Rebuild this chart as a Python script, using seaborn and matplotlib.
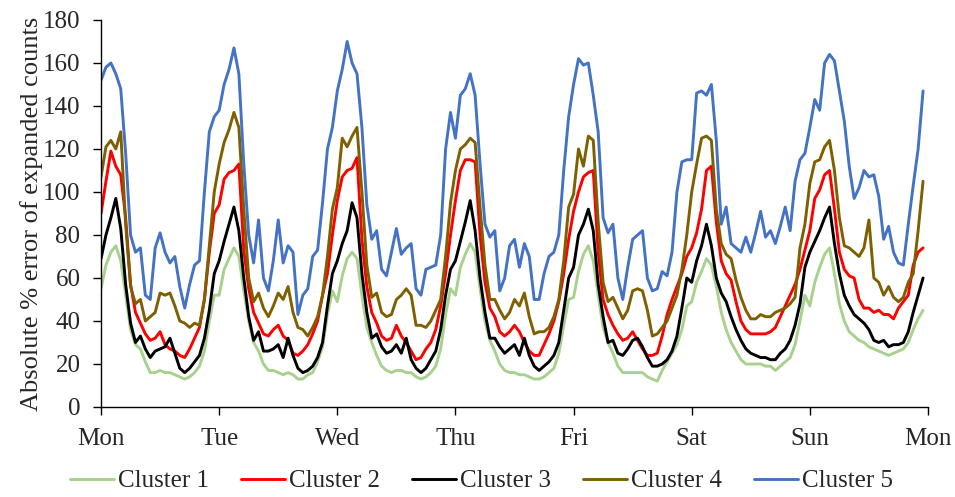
import matplotlib
matplotlib.use("Agg")
import numpy as np
import pandas as pd
import matplotlib.pyplot as plt
import seaborn as sns

# hourly values, Mon 00:00 .. Sun 23:00 (one row per day)
cluster1 = [
    55, 66, 72, 75, 68, 52, 36, 29, 27, 21, 16, 16, 17, 16, 16, 15, 14, 13, 14, 16, 19, 26, 40, 52,
    52, 64, 69, 74, 70, 54, 40, 30, 26, 20, 17, 17, 16, 15, 16, 15, 13, 13, 15, 16, 21, 28, 43, 54,
    49, 61, 69, 72, 69, 52, 37, 30, 24, 19, 17, 16, 17, 17, 16, 16, 14, 13, 14, 16, 19, 27, 43, 55,
    52, 65, 71, 76, 72, 55, 40, 31, 26, 20, 17, 16, 16, 15, 15, 14, 13, 13, 14, 16, 18, 25, 38, 50,
    51, 63, 71, 75, 68, 52, 37, 30, 25, 19, 16, 16, 16, 16, 16, 14, 13, 12, 17, 21, 25, 29, 36, 47,
    49, 58, 63, 69, 66, 56, 44, 36, 30, 26, 22, 20, 20, 20, 20, 19, 19, 17, 19, 21, 23, 29, 40, 52,
    47, 58, 65, 71, 74, 62, 48, 40, 35, 33, 31, 30, 28, 27, 26, 25, 24, 25, 26, 27, 30, 36, 41, 45,
]
cluster2 = [
    90, 105, 119, 112, 108, 88, 57, 44, 39, 34, 31, 32, 35, 29, 27, 26, 24, 23, 27, 32, 37, 50, 72, 90,
    94, 106, 109, 110, 113, 73, 55, 44, 39, 34, 33, 36, 38, 33, 31, 25, 24, 26, 29, 34, 40, 52, 62, 80,
    96, 107, 110, 111, 116, 78, 56, 44, 39, 33, 31, 32, 38, 33, 30, 26, 22, 23, 27, 30, 36, 47, 62, 80,
    96, 110, 115, 115, 114, 80, 58, 46, 42, 35, 33, 35, 38, 35, 30, 26, 24, 24, 29, 34, 40, 49, 62, 78,
    91, 100, 107, 109, 110, 72, 50, 43, 38, 34, 31, 32, 35, 31, 27, 24, 24, 25, 33, 43, 50, 56, 62, 70,
    74, 81, 92, 110, 112, 86, 68, 62, 59, 49, 40, 36, 34, 34, 34, 34, 35, 37, 42, 47, 52, 57, 64, 73,
    82, 97, 101, 108, 110, 92, 72, 64, 61, 60, 50, 46, 46, 44, 45, 43, 43, 41, 46, 49, 52, 66, 72, 74,
]
cluster3 = [
    69, 80, 88, 97, 83, 57, 39, 30, 33, 27, 23, 26, 27, 28, 32, 25, 18, 16, 18, 21, 24, 32, 45, 62,
    68, 77, 85, 93, 82, 60, 42, 31, 35, 26, 26, 27, 29, 23, 32, 24, 18, 16, 17, 19, 23, 30, 47, 62,
    68, 76, 82, 95, 88, 62, 44, 32, 34, 28, 25, 26, 29, 25, 32, 22, 18, 16, 18, 22, 26, 36, 52, 64,
    68, 77, 86, 96, 82, 60, 44, 32, 32, 28, 25, 27, 29, 24, 32, 24, 19, 17, 19, 21, 24, 30, 45, 60,
    65, 80, 85, 92, 82, 57, 42, 30, 31, 25, 24, 27, 31, 32, 28, 23, 19, 19, 20, 22, 26, 33, 46, 60,
    58, 68, 75, 85, 75, 60, 53, 49, 42, 36, 31, 27, 25, 24, 23, 23, 22, 22, 25, 27, 31, 38, 48, 65,
    72, 77, 82, 88, 93, 76, 62, 52, 47, 43, 41, 39, 36, 31, 30, 31, 28, 29, 29, 30, 35, 44, 52, 60,
]
cluster4 = [
    107, 121, 124, 120, 128, 85, 56, 48, 50, 40, 42, 44, 53, 52, 53, 47, 40, 39, 37, 39, 38, 50, 75, 100,
    113, 123, 129, 137, 130, 92, 60, 49, 53, 46, 42, 47, 53, 50, 56, 44, 37, 36, 33, 37, 42, 52, 70, 92,
    102, 125, 121, 126, 130, 100, 66, 51, 53, 44, 42, 43, 50, 52, 55, 52, 38, 38, 37, 40, 45, 50, 70, 95,
    110, 120, 122, 125, 123, 93, 66, 50, 50, 45, 41, 44, 50, 47, 53, 42, 34, 35, 35, 37, 42, 50, 68, 93,
    99, 120, 112, 126, 124, 86, 58, 49, 51, 46, 41, 45, 54, 55, 54, 45, 33, 34, 37, 40, 46, 52, 64, 80,
    100, 113, 125, 126, 124, 92, 76, 71, 69, 59, 51, 45, 41, 41, 43, 42, 42, 44, 45, 46, 48, 51, 74, 85,
    104, 114, 115, 121, 124, 110, 88, 75, 74, 72, 70, 74, 87, 60, 58, 52, 56, 51, 49, 51, 58, 62, 82, 105,
]
cluster5 = [
    152, 158, 160, 155, 148, 118, 80, 72, 74, 52, 50, 74, 81, 72, 67, 70, 56, 46, 57, 66, 68, 100, 128, 135,
    138, 150, 157, 167, 155, 113, 80, 67, 87, 60, 54, 68, 87, 67, 75, 72, 43, 52, 55, 70, 73, 95, 120, 130,
    147, 157, 170, 160, 155, 130, 94, 78, 82, 64, 61, 72, 83, 71, 74, 76, 55, 52, 64, 65, 66, 80, 120, 137,
    125, 145, 148, 155, 145, 113, 85, 79, 82, 54, 60, 75, 78, 65, 76, 70, 50, 50, 62, 70, 72, 80, 110, 135,
    150, 162, 159, 160, 145, 128, 88, 81, 85, 60, 50, 65, 78, 80, 82, 60, 54, 55, 63, 61, 72, 100, 114, 115,
    115, 146, 147, 145, 150, 124, 85, 93, 76, 74, 72, 79, 72, 81, 91, 79, 82, 76, 84, 93, 82, 105, 115, 118,
    130, 143, 138, 160, 164, 161, 147, 133, 112, 97, 102, 110, 107, 108, 98, 78, 84, 72, 67, 66, 85, 103, 120, 147,
]
clusters = ["Cluster 1", "Cluster 2", "Cluster 3", "Cluster 4", "Cluster 5"]
colors = ["#A9D18E", "#FF0000", "#000000", "#7F6000", "#4472C4"]
day_labels = ["Mon", "Tue", "Wed", "Thu", "Fri", "Sat", "Sun", "Mon"]

hours = np.arange(len(cluster1))
df = pd.concat([
    pd.DataFrame({"hour": hours, "error": vals, "cluster": name})
    for name, vals in zip(clusters, [cluster1, cluster2, cluster3, cluster4, cluster5])
])

sns.set_style("ticks")
plt.rcParams["font.family"] = ["Liberation Serif", "DejaVu Serif"]

fig = plt.figure(figsize=(9.55, 4.97), dpi=100)
ax = fig.add_axes([0.1058, 0.1811, 0.8659, 0.7787])

sns.lineplot(data=df, x="hour", y="error", hue="cluster", hue_order=clusters,
             palette=dict(zip(clusters, colors)), linewidth=2.1, ax=ax)

ax.set_xlim(0, 168)
ax.set_ylim(0, 180)
ax.set_xticks(np.arange(0, 169, 24))
ax.set_xticklabels(day_labels)
ax.set_yticks(np.arange(0, 181, 20))
ax.tick_params(axis="both", labelsize=18, length=5.8, width=1, color="black")
ax.tick_params(axis="x", pad=9)
ax.tick_params(axis="y", pad=9)
ax.set_xlabel("")
ax.set_ylabel("Absolute % error of expanded counts", fontsize=19, labelpad=0)
sns.despine(ax=ax)
for s in ["left", "bottom"]:
    ax.spines[s].set_color("black")
    ax.spines[s].set_linewidth(1)

handles, labels = ax.get_legend_handles_labels()
ax.get_legend().remove()
fig.legend(handles, labels, loc="lower center", bbox_to_anchor=(0.504, -0.036), ncol=5,
           frameon=False, fontsize=18, handlelength=1.75, handletextpad=0.15, columnspacing=1.3)

fig.savefig("out.png", dpi=100)
